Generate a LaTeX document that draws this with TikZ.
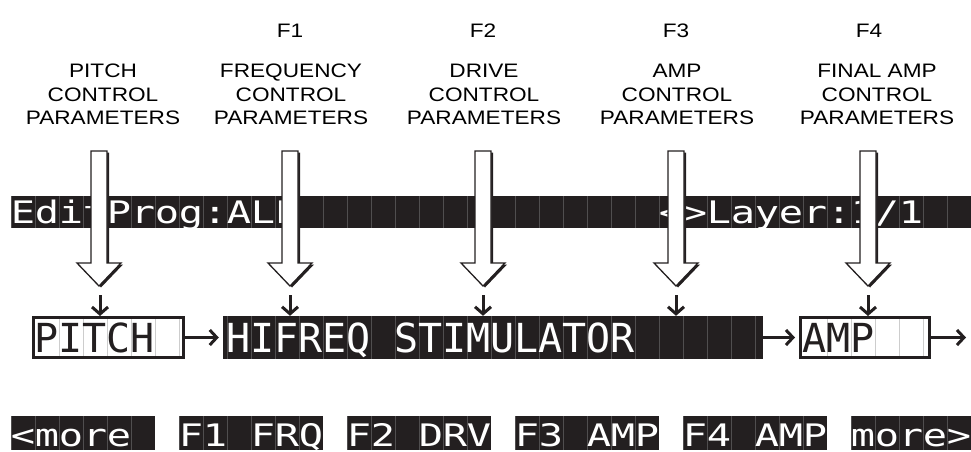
\documentclass[tikz,border=0pt]{standalone}
\usepackage{fontspec}
\setmainfont{Liberation Sans}
\newfontfamily\labelfont[FakeStretch=1.16]{Liberation Sans}
\newfontfamily\lcdwide[FakeStretch=1.3]{DejaVu Sans Mono}
\newfontfamily\lcdtall{DejaVu Sans Mono}
\usetikzlibrary{arrows.meta}

\definecolor{lcdblack}{RGB}{35,31,32}
\definecolor{lcdgrid}{RGB}{80,78,79}
\definecolor{lcdpale}{RGB}{205,205,205}

\tikzset{
  lcdchar/.style={anchor=base, inner sep=0pt, text depth=0pt, text=white, font=\lcdwide\fontsize{31}{31}\selectfont},
  lcdbig/.style={anchor=base, inner sep=0pt, text depth=0pt, font=\lcdtall\fontsize{40}{40}\selectfont},
  paramtext/.style={align=center, anchor=south, inner sep=0pt, text depth=0pt, font=\labelfont\fontsize{19.5}{23.8}\selectfont},
  fkey/.style={anchor=base, inner sep=0pt, font=\labelfont\fontsize{19.5}{23.8}\selectfont},
  whitebox/.style={draw=lcdblack, line width=3pt, fill=white, inner sep=0pt},
  blackbox/.style={fill=lcdblack, inner sep=0pt},
  flow/.style={draw=lcdblack, line width=3pt, -{Straight Barb[length=7pt,width=15pt]}, shorten >=4pt},
  inarrow/.style={draw=lcdblack, line width=3pt, -{Straight Barb[length=7pt,width=16pt]}},
}

% separators between the LCD cells: first cell, last cell, top, bottom, colour
\newcommand{\lcdgridlines}[5]{%
  \foreach \k in {#1,...,#2} \draw[#5, line width=1pt] ({11+24*\k},#3) -- ({11+24*\k},#4);}

\begin{document}
\begin{tikzpicture}[x=1pt, y=-1pt]
\useasboundingbox (0,0) rectangle (971,451);

% Soft button names
\node[fkey] (f1) at (290,37) {F1};
\node[fkey] (f2) at (483,37) {F2};
\node[fkey] (f3) at (676,37) {F3};
\node[fkey] (f4) at (869,37) {F4};

% Parameter groups
\node[paramtext] (pitchpar) at (103,125) {PITCH\\CONTROL\\PARAMETERS};
\node[paramtext] (freqpar) at (291,125) {FREQUENCY\\CONTROL\\PARAMETERS};
\node[paramtext] (drivepar) at (484,125) {DRIVE\\CONTROL\\PARAMETERS};
\node[paramtext] (amppar) at (677,125) {AMP\\CONTROL\\PARAMETERS};
\node[paramtext] (finalpar) at (877,125) {FINAL AMP\\CONTROL\\PARAMETERS};

% Top line of the display
\fill[lcdblack] (11,196) rectangle (971,228);
\lcdgridlines{0}{39}{196}{228}{lcdgrid}
\foreach \k/\ch in {0/E,1/d,2/i,3/t,4/P,5/r,6/o,7/g,8/:,9/A,10/L,11/L,
    27/<,28/>,29/L,30/a,31/y,32/e,33/r,34/:,35/1,36/{/},37/1}
  \node[lcdchar] (t\k) at ({23+24*\k},223) {\ch};

% Hollow arrows into the display
\foreach \x in {99,290,483,676,868} {
  \fill[lcdblack, shift={(2,1.5)}] (\x-8,151) -- (\x+8,151) -- (\x+8,263) -- (\x+22,263)
    -- (\x,286) -- (\x-22,263) -- (\x-8,263) -- cycle;
  \draw[lcdblack, line width=1.3pt, fill=white] (\x-8,151) -- (\x+8,151) -- (\x+8,263)
    -- (\x+22,263) -- (\x,286) -- (\x-22,263) -- (\x-8,263) -- cycle;
}

% Algorithm blocks
\node[whitebox, minimum width=150pt, minimum height=40pt] (pitch) at (108.5,337.5) {};
\node[blackbox, minimum width=540pt, minimum height=43pt] (hifreq) at (493,337.5) {};
\node[whitebox, minimum width=129pt, minimum height=40pt] (amp) at (865,337.5) {};
\lcdgridlines{2}{7}{319}{356}{lcdpale}
\lcdgridlines{9}{31}{316}{359}{lcdgrid}
\lcdgridlines{34}{38}{319}{356}{lcdpale}

\foreach \k/\ch in {1/P,2/I,3/T,4/C,5/H}
  \node[lcdbig, text=lcdblack] (m\k) at ({23+24*\k},352) {\ch};
\foreach \k/\ch in {9/H,10/I,11/F,12/R,13/E,14/Q,16/S,17/T,18/I,19/M,20/U,21/L,
    22/A,23/T,24/O,25/R}
  \node[lcdbig, text=white] (m\k) at ({23+24*\k},352) {\ch};
\foreach \k/\ch in {33/A,34/M,35/P}
  \node[lcdbig, text=lcdblack] (m\k) at ({23+24*\k},352) {\ch};

% Signal path
\coordinate (out) at (966,337.5);
\draw[flow] (pitch.east) -- (hifreq.west);
\draw[flow] (hifreq.east) -- (amp.west);
\draw[flow, shorten >=0pt] (amp.east) -- (out);

% Inputs of the blocks
\coordinate (in1) at (100,295);
\coordinate (in2) at (290,295);
\coordinate (in3) at (483,295);
\coordinate (in4) at (676,295);
\coordinate (in5) at (868,295);
\draw[inarrow] (in1) -- (in1 |- pitch.north);
\draw[inarrow] (in2) -- (in2 |- hifreq.north);
\draw[inarrow] (in3) -- (in3 |- hifreq.north);
\draw[inarrow] (in4) -- (in4 |- hifreq.north);
\draw[inarrow] (in5) -- (in5 |- amp.north);

% Bottom line of the display
\foreach \a/\b in {0/5,7/12,14/19,21/26,28/33,35/39} {
  \fill[lcdblack] ({11+24*\a},416) rectangle ({35+24*\b},450);
  \lcdgridlines{\a}{\b}{416}{450}{lcdgrid}
}
\foreach \k/\ch in {0/<,1/m,2/o,3/r,4/e,7/F,8/1,10/F,11/R,12/Q,14/F,15/2,17/D,18/R,19/V,
    21/F,22/3,24/A,25/M,26/P,28/F,29/4,31/A,32/M,33/P,35/m,36/o,37/r,38/e,39/>}
  \node[lcdchar] (b\k) at ({23+24*\k},446) {\ch};
\end{tikzpicture}
\end{document}
